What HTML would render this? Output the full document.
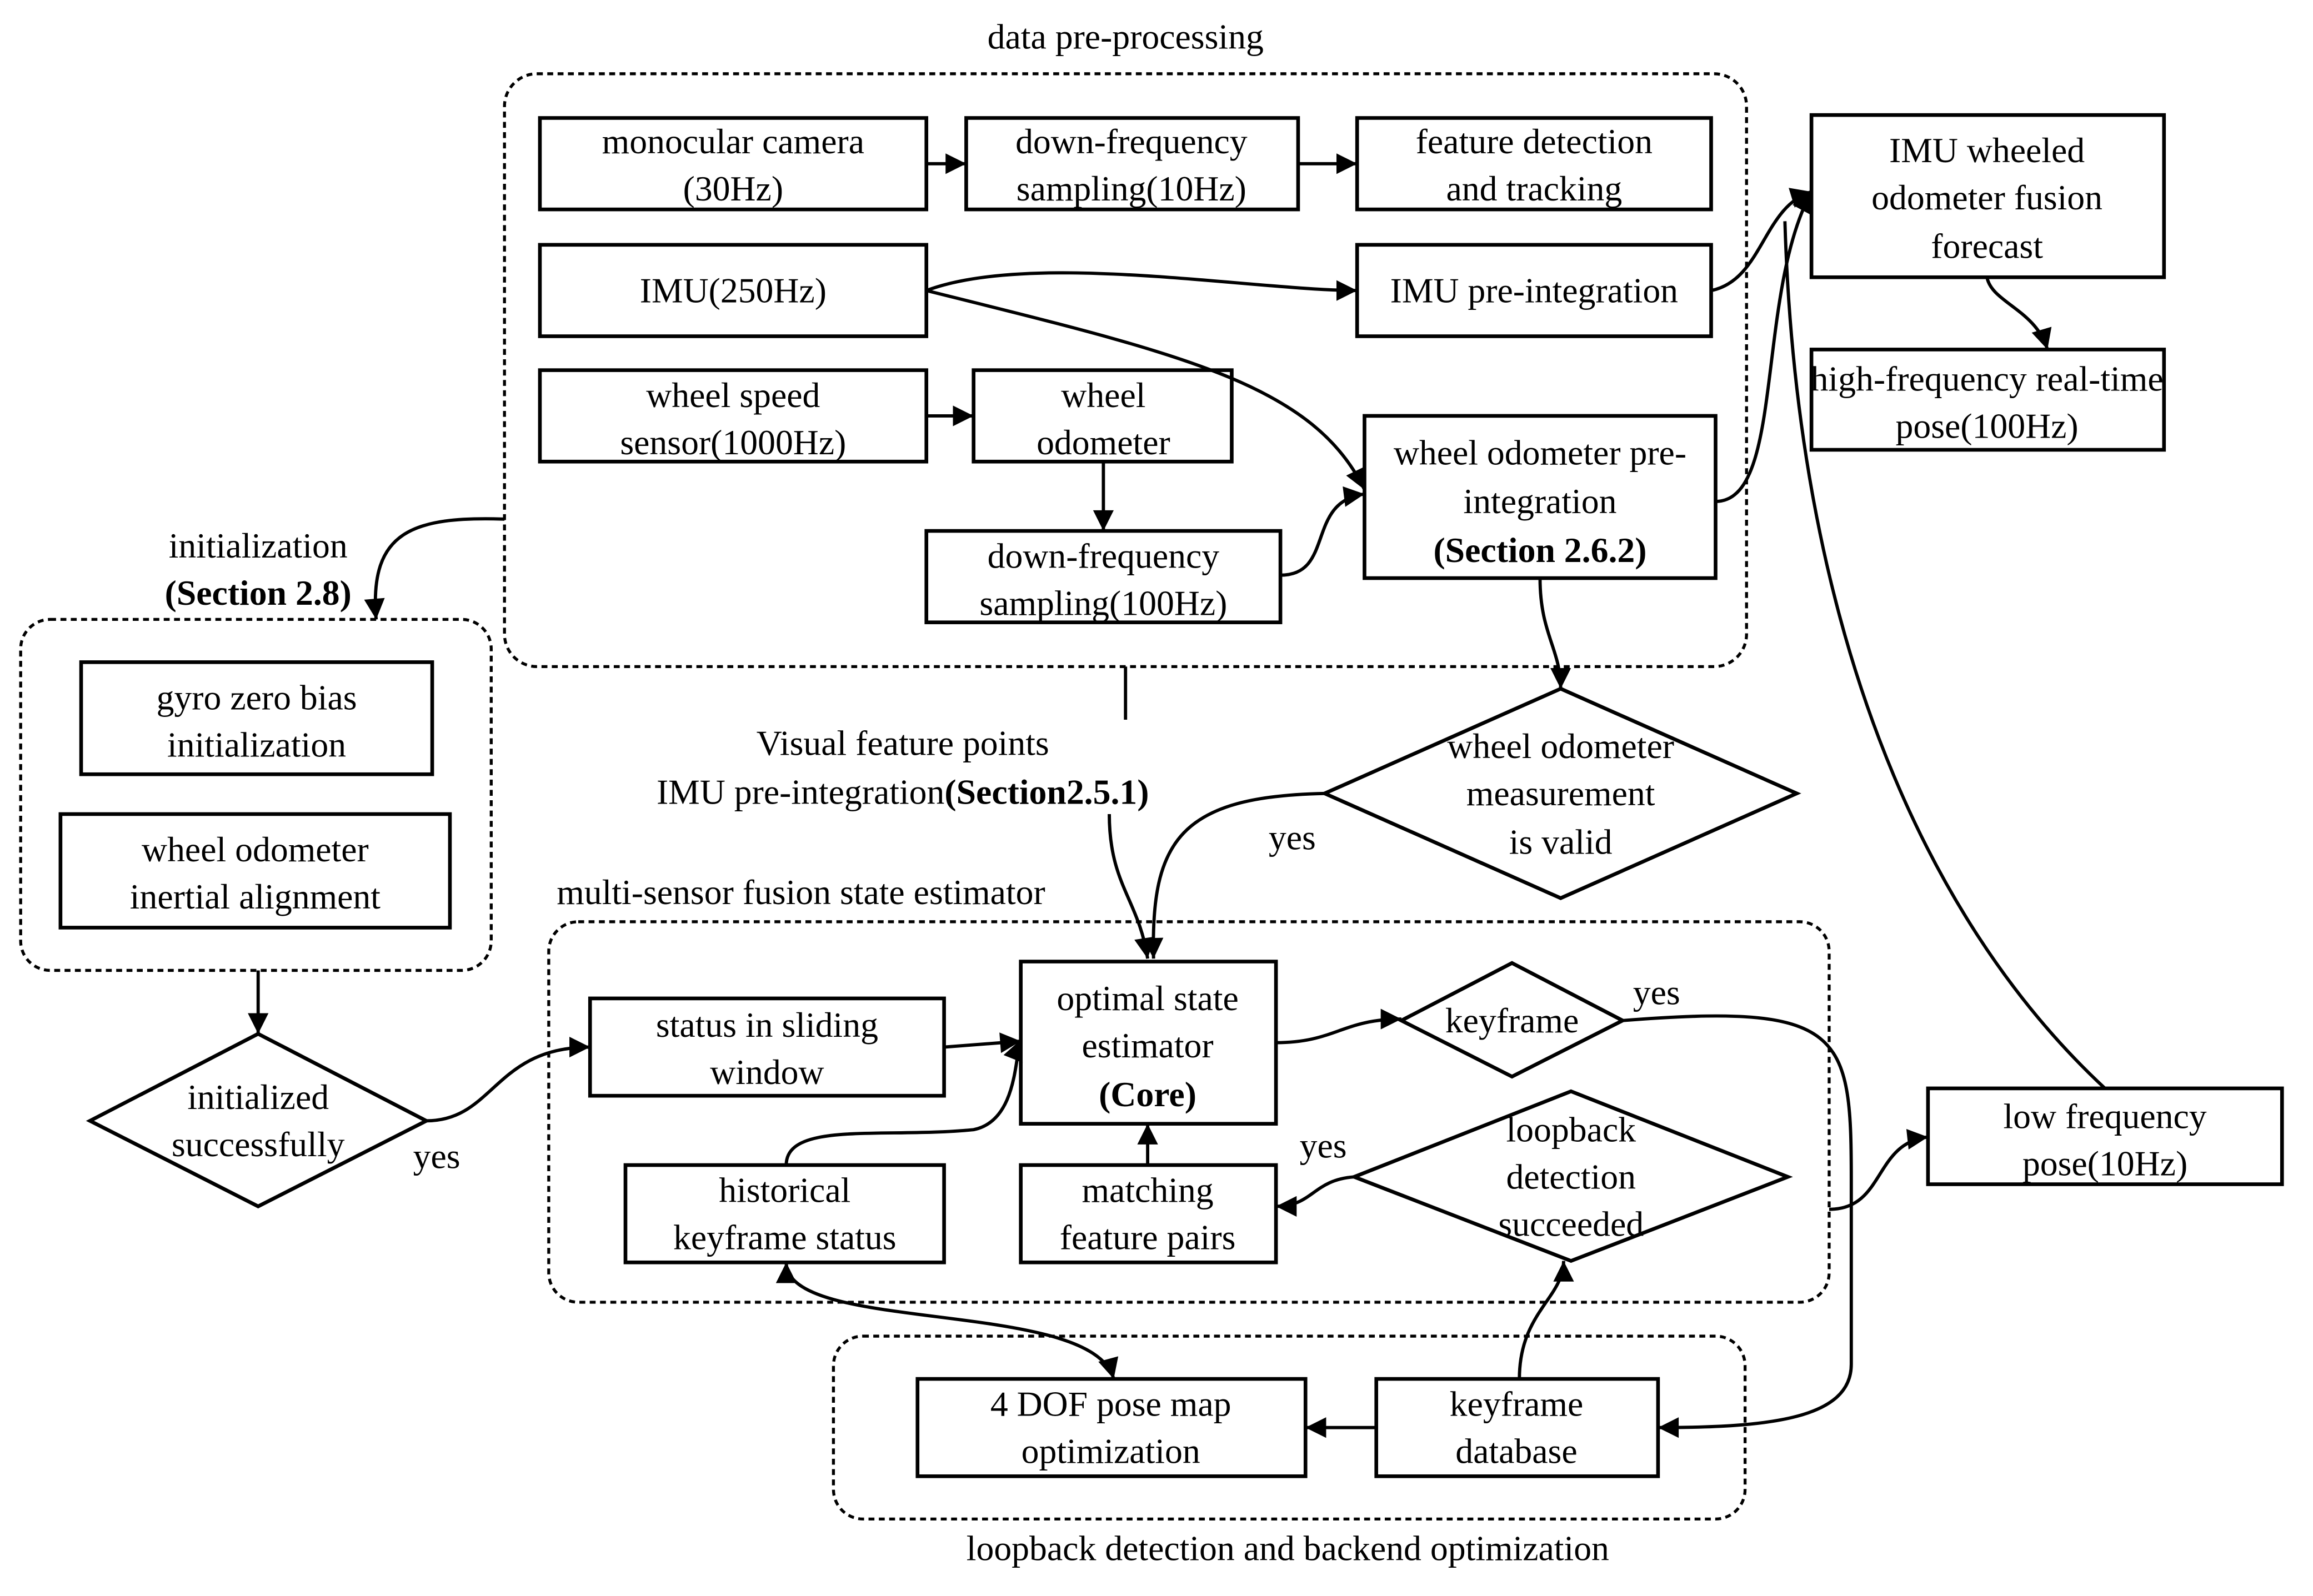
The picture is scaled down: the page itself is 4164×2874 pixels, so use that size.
<!DOCTYPE html>
<html><head><meta charset="utf-8"><style>
html,body{margin:0;padding:0;background:#fff;}
svg{display:block;}
text{font-family:"Liberation Serif",serif;font-size:24px;fill:#000;text-anchor:middle;}
.b{font-weight:bold;}
</style></head><body>
<svg width="4164" height="2874" viewBox="0 0 1568 1082.2" preserveAspectRatio="none" xmlns="http://www.w3.org/2000/svg">
<defs>
<marker id="a" viewBox="0 0 10 10" refX="10" refY="5" markerWidth="16" markerHeight="14" markerUnits="userSpaceOnUse" orient="auto-start-reverse">
<path d="M0,0 L10,5 L0,10 z" fill="#000"/></marker>
</defs>
<g fill="none" stroke="#000" stroke-width="2" stroke-dasharray="4,3">
<rect x="342" y="50" width="842" height="402" rx="22"/>
<rect x="14" y="420" width="319" height="238" rx="20"/>
<rect x="372" y="625" width="868" height="258" rx="20"/>
<rect x="565" y="906" width="618" height="124" rx="20"/>
</g>
<g fill="#fff" stroke="#000" stroke-width="2.5">
<rect x="366" y="80" width="262" height="62"/>
<rect x="655" y="80" width="225" height="62"/>
<rect x="920" y="80" width="240" height="62"/>
<rect x="366" y="166" width="262" height="62"/>
<rect x="920" y="166" width="240" height="62"/>
<rect x="366" y="251" width="262" height="62"/>
<rect x="660" y="251" width="175" height="62"/>
<rect x="628" y="360" width="240" height="62"/>
<rect x="925" y="282" width="238" height="110"/>
<rect x="1228" y="78" width="239" height="110"/>
<rect x="1228" y="237" width="239" height="68"/>
<rect x="55" y="449" width="238" height="76"/>
<rect x="41" y="552" width="264" height="77"/>
<polygon points="175,701 289,760 175,818 61,760"/>
<polygon points="1058,467 1218,538 1058,609 898,538"/>
<rect x="400" y="677" width="240" height="66"/>
<rect x="692" y="652" width="173" height="110"/>
<polygon points="1025,653 1100,692 1025,730 950,692"/>
<rect x="424" y="790" width="216" height="66"/>
<rect x="692" y="790" width="173" height="66"/>
<polygon points="1065,740 1212,798 1065,855 918,798"/>
<rect x="1307" y="738" width="240" height="65"/>
<rect x="622" y="935" width="263" height="66"/>
<rect x="933" y="935" width="191" height="66"/>
</g>
<g fill="none" stroke="#000" stroke-width="2.2">
<path d="M628,111 L655,111" marker-end="url(#a)"/>
<path d="M880,111 L920,111" marker-end="url(#a)"/>
<path d="M628,197 C700,170 850,197 920,197" marker-end="url(#a)"/>
<path d="M628,197 C800,240 890,260 925,332" marker-end="url(#a)"/>
<path d="M628,282 L660,282" marker-end="url(#a)"/>
<path d="M748,313 L748,360" marker-end="url(#a)"/>
<path d="M868,390 C905,390 885,340 925,335" marker-end="url(#a)"/>
<path d="M1160,197 C1195,190 1195,140 1228,130" marker-end="url(#a)"/>
<path d="M1163,340 C1210,340 1190,200 1228,130" marker-end="url(#a)"/>
<path d="M1347,188 C1350,205 1380,210 1388,237" marker-end="url(#a)"/>
<path d="M1427,738 C1300,620 1218,420 1210,150"/>
<path d="M342,352 C280,350 250,360 255,420" marker-end="url(#a)"/>
<path d="M763,452 L763,488"/>
<path d="M752,552 C752,600 772,610 778,650" marker-end="url(#a)"/>
<path d="M1044,392 C1044,430 1058,440 1058,467" marker-end="url(#a)"/>
<path d="M898,538 C800,540 780,570 782,650" marker-end="url(#a)"/>
<path d="M175,658 L175,701" marker-end="url(#a)"/>
<path d="M289,760 C335,760 335,710 400,710" marker-end="url(#a)"/>
<path d="M640,710 L692,706" marker-end="url(#a)"/>
<path d="M533,790 C533,760 600,772 660,766 C690,760 688,715 692,705" marker-end="url(#a)"/>
<path d="M778,790 L778,762" marker-end="url(#a)"/>
<path d="M865,707 C905,707 910,691 950,691" marker-end="url(#a)"/>
<path d="M1100,692 C1250,680 1255,700 1255,800 L1255,925 C1255,962 1200,968 1124,968" marker-end="url(#a)"/>
<path d="M918,798 C890,800 890,818 865,818" marker-end="url(#a)"/>
<path d="M1030,935 C1030,890 1060,880 1060,855" marker-end="url(#a)"/>
<path d="M933,968 L885,968" marker-end="url(#a)"/>
<path d="M533,856 C533,905 740,880 755,935" marker-start="url(#a)" marker-end="url(#a)"/>
<path d="M1240,820 C1278,820 1270,775 1307,771" marker-end="url(#a)"/>
</g>
<text x="763" y="33">data pre-processing</text>
<text x="497" y="104">monocular camera</text><text x="497" y="136">(30Hz)</text>
<text x="767" y="104">down-frequency</text><text x="767" y="136">sampling(10Hz)</text>
<text x="1040" y="104">feature detection</text><text x="1040" y="136">and tracking</text>
<text x="497" y="205">IMU(250Hz)</text>
<text x="1040" y="205">IMU pre-integration</text>
<text x="497" y="276">wheel speed</text><text x="497" y="308">sensor(1000Hz)</text>
<text x="748" y="276">wheel</text><text x="748" y="308">odometer</text>
<text x="748" y="385">down-frequency</text><text x="748" y="417">sampling(100Hz)</text>
<text x="1044" y="315">wheel odometer pre-</text><text x="1044" y="348">integration</text><text x="1044" y="381" class="b">(Section 2.6.2)</text>
<text x="1347" y="110">IMU wheeled</text><text x="1347" y="142">odometer fusion</text><text x="1347" y="175">forecast</text>
<text x="1347" y="265">high-frequency real-time</text><text x="1347" y="297">pose(100Hz)</text>
<text x="175" y="378">initialization</text><text x="175" y="410" class="b">(Section 2.8)</text>
<text x="174" y="481">gyro zero bias</text><text x="174" y="513">initialization</text>
<text x="173" y="584">wheel odometer</text><text x="173" y="616">inertial alignment</text>
<text x="175" y="752">initialized</text><text x="175" y="784">successfully</text>
<text x="296" y="792">yes</text>
<text x="612" y="512">Visual feature points</text>
<text x="612" y="545">IMU pre-integration<tspan class="b">(Section2.5.1)</tspan></text>
<text x="1058" y="514">wheel odometer</text><text x="1058" y="546">measurement</text><text x="1058" y="579">is valid</text>
<text x="876" y="576">yes</text>
<text x="543" y="613">multi-sensor fusion state estimator</text>
<text x="520" y="703">status in sliding</text><text x="520" y="735">window</text>
<text x="778" y="685">optimal state</text><text x="778" y="717">estimator</text><text x="778" y="750" class="b">(Core)</text>
<text x="1025" y="700">keyframe</text>
<text x="1123" y="681">yes</text>
<text x="532" y="815">historical</text><text x="532" y="847">keyframe status</text>
<text x="778" y="815">matching</text><text x="778" y="847">feature pairs</text>
<text x="1065" y="774">loopback</text><text x="1065" y="806">detection</text><text x="1065" y="838">succeeded</text>
<text x="897" y="785">yes</text>
<text x="1427" y="765">low frequency</text><text x="1427" y="797">pose(10Hz)</text>
<text x="753" y="960">4 DOF pose map</text><text x="753" y="992">optimization</text>
<text x="1028" y="960">keyframe</text><text x="1028" y="992">database</text>
<text x="873" y="1058">loopback detection and backend optimization</text>
</svg>
</body></html>
